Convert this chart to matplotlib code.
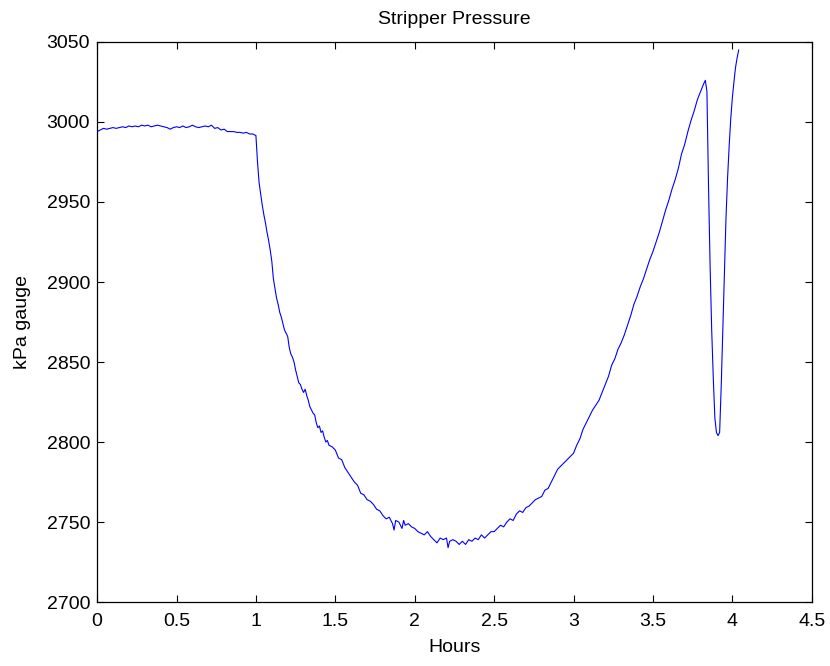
import matplotlib
matplotlib.use("Agg")
import matplotlib.pyplot as plt

# Hours
hours = [
    0.00, 0.02, 0.04, 0.06, 0.08, 0.10, 0.12, 0.14, 0.16, 0.18,
    0.20, 0.22, 0.24, 0.26, 0.28, 0.30, 0.32, 0.34, 0.36, 0.38,
    0.40, 0.42, 0.44, 0.46, 0.48, 0.50, 0.52, 0.54, 0.56, 0.58,
    0.60, 0.62, 0.64, 0.66, 0.68, 0.70, 0.72, 0.74, 0.76, 0.78,
    0.80, 0.82, 0.84, 0.86, 0.88, 0.90, 0.92, 0.94, 0.96, 0.98,
    1.00, 1.01, 1.02, 1.03, 1.04, 1.05, 1.06, 1.07, 1.08, 1.09,
    1.10, 1.11, 1.12, 1.13, 1.14, 1.15, 1.16, 1.17, 1.18, 1.19,
    1.20, 1.21, 1.22, 1.23, 1.24, 1.25, 1.26, 1.27, 1.28, 1.29,
    1.30, 1.31, 1.32, 1.33, 1.34, 1.35, 1.36, 1.37, 1.38, 1.39,
    1.40, 1.41, 1.42, 1.43, 1.44, 1.45, 1.46, 1.48, 1.50, 1.52,
    1.54, 1.56, 1.58, 1.60, 1.62, 1.64, 1.66, 1.68, 1.70, 1.72,
    1.74, 1.76, 1.78, 1.80, 1.82, 1.84, 1.86, 1.87, 1.88, 1.90,
    1.92, 1.93, 1.94, 1.96, 1.98, 2.00, 2.02, 2.04, 2.06, 2.08,
    2.10, 2.12, 2.14, 2.16, 2.18, 2.20, 2.21, 2.22, 2.24, 2.26,
    2.28, 2.30, 2.32, 2.34, 2.36, 2.38, 2.40, 2.42, 2.44, 2.46,
    2.48, 2.50, 2.52, 2.54, 2.56, 2.58, 2.60, 2.62, 2.64, 2.66,
    2.68, 2.70, 2.72, 2.74, 2.76, 2.78, 2.80, 2.82, 2.84, 2.86,
    2.88, 2.90, 2.92, 2.94, 2.96, 2.98, 3.00, 3.02, 3.04, 3.06,
    3.08, 3.10, 3.12, 3.14, 3.16, 3.18, 3.20, 3.22, 3.24, 3.26,
    3.28, 3.30, 3.32, 3.34, 3.36, 3.38, 3.40, 3.42, 3.44, 3.46,
    3.48, 3.50, 3.52, 3.54, 3.56, 3.58, 3.60, 3.62, 3.64, 3.66,
    3.68, 3.70, 3.72, 3.74, 3.76, 3.78, 3.80, 3.82, 3.83, 3.84,
    3.85, 3.86, 3.87, 3.88, 3.89, 3.90, 3.91, 3.92, 3.93, 3.94,
    3.95, 3.96, 3.97, 3.98, 3.99, 4.00, 4.01, 4.02, 4.03, 4.04,
]

# Pressure, kPa gauge
pressure = [
    2994, 2995, 2996, 2995.5, 2996, 2996.5, 2996, 2996.5, 2997, 2996.5,
    2997.5, 2997, 2997.5, 2997, 2998, 2997.5, 2998, 2997, 2997.5, 2998,
    2997.5, 2997, 2996.5, 2995.5, 2996.5, 2997, 2996.5, 2997.5, 2996.5, 2997,
    2998, 2997, 2996.5, 2997, 2997.5, 2997, 2998, 2996, 2996.5, 2995,
    2995.5, 2994, 2994, 2994, 2993.5, 2993.5, 2993, 2993.5, 2992.5, 2992.5,
    2991.5, 2975, 2962, 2955, 2948, 2942, 2937, 2931, 2926, 2920,
    2913, 2902, 2896, 2890, 2886, 2881, 2878, 2874, 2870, 2868,
    2866, 2859, 2855, 2853, 2850, 2845, 2841, 2837, 2836, 2833,
    2831, 2833, 2829, 2826, 2822, 2820, 2818, 2817, 2812, 2809,
    2810, 2806, 2807, 2803, 2800, 2801, 2798, 2797, 2795, 2790,
    2789, 2784, 2781, 2778, 2775, 2773, 2768, 2767, 2764, 2763,
    2761, 2758, 2757, 2754, 2752, 2753, 2749, 2745, 2751, 2750,
    2746, 2751, 2748, 2749, 2747, 2746, 2744, 2743, 2742, 2744,
    2741, 2739, 2737, 2740, 2739, 2740, 2734, 2738, 2739, 2738,
    2736, 2738, 2736, 2739, 2738, 2740, 2739, 2742, 2740, 2742,
    2744, 2744, 2746, 2748, 2747, 2750, 2752, 2751, 2755, 2757,
    2756, 2759, 2760, 2762, 2764, 2765, 2766, 2770, 2771, 2775,
    2779, 2783, 2785, 2787, 2789, 2791, 2793, 2798, 2802, 2808,
    2812, 2816, 2820, 2823, 2826, 2831, 2836, 2841, 2848, 2852,
    2858, 2862, 2867, 2873, 2879, 2886, 2891, 2897, 2902, 2908,
    2914, 2919, 2925, 2931, 2938, 2945, 2951, 2958, 2964, 2971,
    2980, 2986, 2994, 3001, 3007, 3014, 3019, 3024, 3026, 3019,
    2960, 2910, 2870, 2840, 2815, 2806, 2804, 2806, 2835, 2870,
    2905, 2940, 2965, 2985, 3002, 3015, 3025, 3034, 3040, 3045,
]

x_ticks = [0, 0.5, 1, 1.5, 2, 2.5, 3, 3.5, 4, 4.5]
x_tick_labels = ["0", "0.5", "1", "1.5", "2", "2.5", "3", "3.5", "4", "4.5"]
y_ticks = [2700, 2750, 2800, 2850, 2900, 2950, 3000, 3050]

plt.rcParams['font.family'] = ['Liberation Sans', 'DejaVu Sans']

fig = plt.figure(figsize=(8.3, 6.66), dpi=100)
ax = fig.add_axes([0.117, 0.096, 0.861, 0.841])

ax.plot(hours, pressure, color='#0000ff', linewidth=0.8)

ax.set_xlim(0, 4.5)
ax.set_ylim(2700, 3050)
ax.set_xticks(x_ticks)
ax.set_xticklabels(x_tick_labels)
ax.set_yticks(y_ticks)

ax.tick_params(direction='in', length=5, width=0.8, top=True, right=True,
               labelsize=14)
ax.tick_params(axis='x', pad=8)
ax.tick_params(axis='y', pad=5)
for s in ax.spines.values():
    s.set_linewidth(0.9)

ax.set_title("Stripper Pressure", fontsize=14, pad=13)
ax.set_xlabel("Hours", fontsize=14, labelpad=6)
ax.set_ylabel("kPa gauge", fontsize=14, labelpad=11)

fig.savefig("out.png", dpi=100)
